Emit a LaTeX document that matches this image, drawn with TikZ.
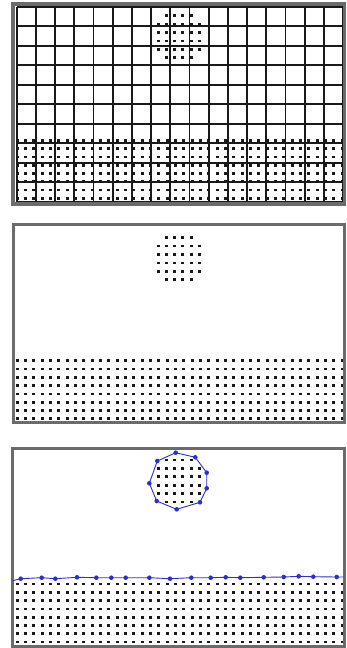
\documentclass[tikz,border=0pt]{standalone}
\definecolor{framegray}{gray}{0.42}
\definecolor{pblue}{RGB}{45,45,215}
\tikzset{
  particle/.style={fill=black!90},
  frameline/.style={draw=framegray, line width=3.2pt},
  gridline/.style={draw=black!90, line width=1.8pt},
  bline/.style={draw=pblue, line width=0.9pt},
  bdot/.style={fill=pblue},
}
\newcommand\ptc[2]{\fill[particle] (#1,#2) ++(-1.5,-1.35) rectangle ++(3.0,2.7);}
% cluster: #1 = top row y
\newcommand\cluster[1]{%
  \foreach \j in {0,...,5}{%
    \foreach \i in {0,...,5}{%
      \pgfmathtruncatemacro\skp{((\j==0 || \j==5) && (\i==0 || \i==5)) ? 1 : 0}%
      \ifnum\skp=0 \ptc{158.3+8.2*\i}{#1+8.4*\j}\fi
    }%
  }%
}
% bottom block: #1 = top row y
\newcommand\block[1]{%
  \foreach \j in {0,...,7}{%
    \foreach \i in {0,...,39}{%
      \ptc{17.2+8.33*\i}{#1+8.3*\j}%
    }%
  }%
}
\begin{document}
\begin{tikzpicture}[x=1pt,y=-1pt]
\useasboundingbox (0,0) rectangle (347,648);
\fill[white] (0,0) rectangle (347,648);

% ---------- panel 1 ----------
\cluster{15.7}
\block{140.3}
\foreach \k in {0,...,17}{\draw[gridline] (16.7+19.2*\k,6.7) -- (16.7+19.2*\k,201.7);}
\foreach \k in {0,...,10}{\draw[gridline] (16.7,6.7+19.5*\k) -- (343.3,6.7+19.5*\k);}
\draw[frameline] (13,4) rectangle (344.5,204);

% ---------- panel 2 ----------
\cluster{237.7}
\block{360.7}
\draw[frameline] (13.5,224.5) rectangle (344.5,422.5);

% ---------- panel 3 ----------
\cluster{460}
\block{584}
\draw[frameline] (12.5,448.5) rectangle (344.5,646.5);

% blue polygon around the droplet
\foreach \n/\p in {a/{175.7,452.7}, b/{195.3,457.3}, c/{206.7,472.7}, d/{206.7,488.3},
                   e/{200,502.3}, f/{176.7,509.3}, g/{156.7,501}, h/{149.3,483.3}, i/{157.3,461}}
  {\coordinate (v\n) at (\p);}
\draw[bline] (va) -- (vb) -- (vc) -- (vd) -- (ve) -- (vf) -- (vg) -- (vh) -- (vi) -- cycle;
\foreach \n in {a,b,c,d,e,f,g,h,i}{\fill[bdot] (v\n) circle (2.3);}

% blue surface line
\coordinate (s0) at (12.7,580.7);
\foreach \n/\p in {1/{20.7,578.7}, 2/{41.7,577.7}, 3/{55.3,578.7}, 4/{77,577.3}, 5/{96.3,577.7},
                   6/{111.3,577.7}, 7/{125.7,577.7}, 8/{149.3,577.7}, 9/{170,578.7}, 10/{191.3,577.7},
                   11/{210.7,577.7}, 12/{225.7,577.3}, 13/{240.3,577.7}, 14/{263.7,577.3},
                   15/{283.7,577}, 16/{298.7,576.3}, 17/{313.3,576.7}, 18/{336.7,577}}
  {\coordinate (s\n) at (\p);}
\coordinate (s19) at (343.3,577);
\draw[bline] (s0) \foreach \n in {1,...,19}{ -- (s\n)};
\foreach \n in {1,...,18}{\fill[bdot] (s\n) circle (2.3);}
\end{tikzpicture}
\end{document}
